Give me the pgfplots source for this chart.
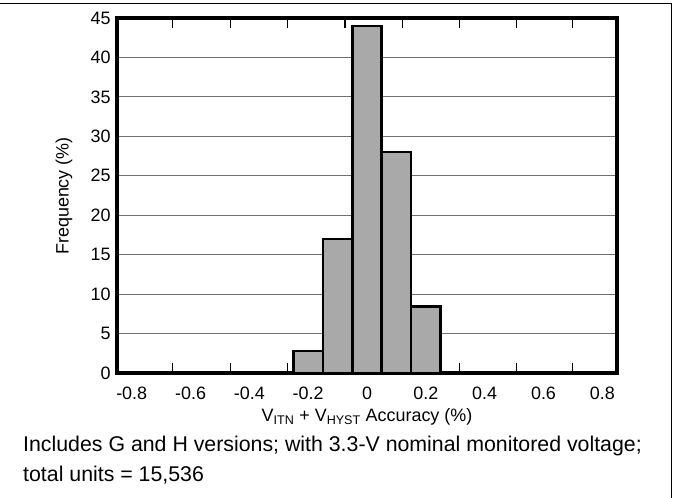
\documentclass[border=0pt]{standalone}
\usepackage{fontspec}
\setmainfont{Liberation Sans}
\usepackage{pgfplots}
\pgfplotsset{compat=1.18}
\definecolor{barfill}{HTML}{A9A9A9}
\definecolor{gridgray}{HTML}{707070}
\begin{document}
\begin{tikzpicture}[x=1bp,y=1bp]
\useasboundingbox (0,0) rectangle (673,498);
\draw[line width=1bp] (0,494) -- (671,494) -- (671,0);
\begin{axis}[
  at={(117bp,125bp)}, anchor=south west,
  scale only axis, width=500bp, height=355bp,
  xmin=-0.85, xmax=0.85, ymin=0, ymax=45,
  axis line style={line width=4bp},
  xtick={-0.8,-0.6,-0.4,-0.2,0,0.2,0.4,0.6,0.8},
  xticklabels={-0.8,-0.6,-0.4,-0.2,0,0.2,0.4,0.6,0.8},
  ytick={0,5,...,45},
  yticklabels={0,5,10,15,20,25,30,35,40,45},
  major tick length=0pt,
  tick label style={font=\fontsize{18}{21}\selectfont},
  xticklabel style={anchor=base, yshift=-27bp},
  yticklabel style={anchor=east, xshift=-3bp},
  ymajorgrids,
  grid style={gridgray, line width=1bp},
  extra x ticks={-0.66,-0.465,-0.27,-0.075,0.12,0.313,0.507,0.70},
  extra x tick labels={},
  extra x tick style={grid=none, major tick length=10bp, tick align=inside,
     tick style={line width=1.1bp, black}},
  xtick pos=both,
  clip=false,
]
\addplot[ybar, bar width=0.1, fill=barfill, draw=black, line width=2.5bp]
  coordinates {(-0.2,2.8) (-0.1,17) (0,44) (0.1,28) (0.2,8.4)};
\end{axis}
\node[rotate=90, font=\fontsize{18}{21}\selectfont] at (64,302) {Frequency (\%)};
\node[anchor=base, font=\fontsize{18}{21}\selectfont] at (367,76) {V\textsubscript{ITN} + V\textsubscript{HYST} Accuracy (\%)};
\node[anchor=base west, inner sep=0pt, font=\fontsize{21.4}{25}\selectfont] at (23,46) {Includes G and H versions; with 3.3-V nominal monitored voltage;};
\node[anchor=base west, inner sep=0pt, font=\fontsize{21.4}{25}\selectfont] at (23,16) {total units = 15,536};
\end{tikzpicture}
\end{document}
